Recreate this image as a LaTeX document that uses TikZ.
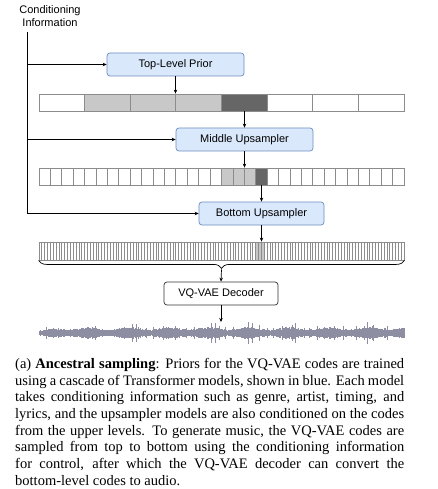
\documentclass[tikz,border=0pt]{standalone}
\usepackage{fontspec}
\usepackage{xcolor}
\usepackage{tikz}
\usetikzlibrary{positioning,calc,arrows.meta,decorations.pathreplacing}
\newfontfamily\diagfont{Liberation Sans}
\newfontfamily\captionfont{Liberation Serif}
\definecolor{priorfill}{HTML}{DAE8FC}
\definecolor{priorline}{HTML}{6C8EBF}
\definecolor{cellline}{HTML}{8C8C8C}
\definecolor{cellsoft}{HTML}{C8C8C8}
\definecolor{celldark}{HTML}{666666}
\definecolor{wavecol}{HTML}{8E8EA2}

\begin{document}
\begin{tikzpicture}[x=1pt,y=-1pt,
  >={Stealth[length=4pt,width=3.5pt]},
  model/.style={draw=priorline, fill=priorfill, rounded corners=3pt, line width=0.7pt,
    minimum height=23pt, inner sep=0pt, font=\diagfont\fontsize{11}{13}\selectfont},
  decoderbox/.style={model, draw=black!80, fill=white},
  codebar/.style={draw=cellline, line width=0.8pt, minimum width=365pt, inner sep=0pt},
  cellrule/.style={cellline, line width=0.8pt},
  link/.style={->, line width=0.7pt}]
  \useasboundingbox (0,0) rectangle (437,489);

  % conditioning input and models
  \node[font=\diagfont\fontsize{11}{13}\selectfont, align=center, inner sep=0pt] (condinfo) at (50,16.5) {Conditioning\\Information};
  \node[model, minimum width=137pt] (prior) at (175.5,64.5) {Top-Level Prior};
  \node[model, minimum width=137pt] (midup) at (244.5,139.5) {Middle Upsampler};
  \node[model, minimum width=125pt] (botup) at (261.5,213.5) {Bottom Upsampler};
  \node[decoderbox, minimum width=114pt] (decoder) at (221,293.5) {VQ-VAE Decoder};

  % top codes (8 cells)
  \def\w{45.625}
  \foreach \i in {1,2,3} { \fill[cellsoft] (39+\i*\w,94) rectangle ++(\w,17); }
  \fill[celldark] (39+4*\w,94) rectangle ++(\w,17);
  \node[codebar, minimum height=17pt] (topbar) at (221.5,102.5) {};
  \foreach \i in {1,...,7} { \draw[cellrule] (39+\i*\w,94) -- ++(0,17); }

  % middle codes (32 cells)
  \def\w{11.40625}
  \foreach \i in {16,17,18} { \fill[cellsoft] (39+\i*\w,168) rectangle ++(\w,17); }
  \fill[celldark] (39+19*\w,168) rectangle ++(\w,17);
  \node[codebar, minimum height=17pt] (midbar) at (221.5,176.5) {};
  \foreach \i in {1,...,31} { \draw[cellrule] (39+\i*\w,168) -- ++(0,17); }

  % bottom codes (128 cells)
  \def\w{2.8516}
  \foreach \i in {76,77,78} { \fill[cellsoft] (39+\i*\w,242) rectangle ++(\w,18); }
  \node[codebar, minimum height=18pt] (botbar) at (221.5,251) {};
  \foreach \i in {1,...,127} { \draw[cellrule] (39+\i*\w,242) -- ++(0,18); }

  % audio
  \pgfmathsetseed{7}
  \foreach \i in {0,0.5,...,365} {
    \pgfmathsetmacro\amp{min(1,0.35+\i/30)*(1+0.25*sin(\i*9))*(3+1.8*rnd+5*(rnd>0.93)*rnd)}
    \draw[wavecol, line width=0.6pt] (39+\i,333-\amp) -- (39+\i,333+\amp);
  }

  % conditioning lines
  \coordinate (spinetop) at (27,32);
  \draw[link] (spinetop) |- (botup.west);
  \draw[link] (spinetop |- prior.west) -- (prior.west);
  \draw[link] (spinetop |- midup.west) -- (midup.west);

  % sampling path
  \draw[link] (prior.south) -- (prior.south |- topbar.north);
  \draw[link] (midup.north |- topbar.south) -- (midup.north);
  \draw[link] (midup.south) -- (midup.south |- midbar.north);
  \draw[link] (botup.north |- midbar.south) -- (botup.north);
  \draw[link] (botup.south) -- (botup.south |- botbar.north);
  \draw[line width=0.7pt, decorate, decoration={brace, mirror, amplitude=8pt}] (botbar.south west) -- (botbar.south east);
  \coordinate (bracetip) at ($(botbar.south)+(0,9)$);
  \draw[link] (bracetip) -- (decoder.north);
  \coordinate (wavetop) at (221,322);
  \draw[link] (decoder.south) -- (wavetop);

  % caption
  \node[anchor=north west, inner sep=0pt, text width=389pt, align=justify,
    font=\captionfont\fontsize{14.5}{16.7}\selectfont] (caption) at (15,358)
  {\hyphenpenalty=10000 \exhyphenpenalty=10000 \tolerance=10000
   (a) \textbf{Ancestral sampling}: Priors for the VQ-VAE codes are trained\linebreak
   using a cascade of Transformer models, shown in blue. Each model\linebreak
   takes conditioning information such as genre, artist, timing, and\linebreak
   lyrics, and the upsampler models are also conditioned on the codes\linebreak
   from the upper levels. To generate music, the VQ-VAE codes are\linebreak
   sampled from top to bottom using the conditioning information\linebreak
   for control, after which the VQ-VAE decoder can convert the\linebreak
   bottom-level codes to audio.};
\end{tikzpicture}
\end{document}
